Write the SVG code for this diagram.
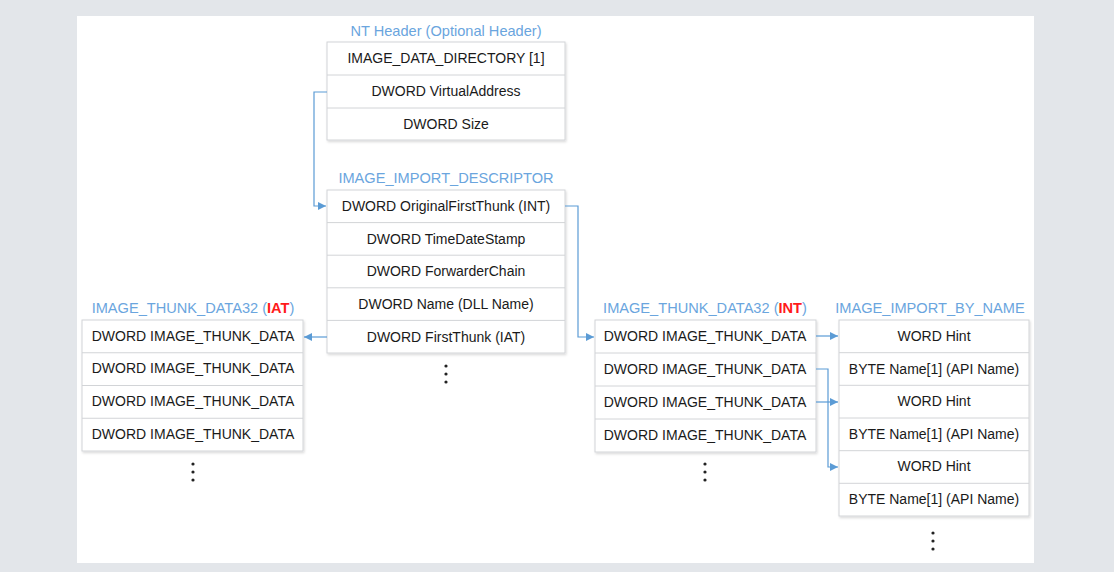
<svg xmlns="http://www.w3.org/2000/svg" width="1114" height="572" viewBox="0 0 1114 572">
<defs>
<style>
.bg{fill:#e3e6ea}
.page{fill:#ffffff}
.box{fill:#ffffff;stroke:#d2d4d7;stroke-width:1}
.sep{stroke:#d2d4d7;stroke-width:1}
.t{font-family:"Liberation Sans",Arial,sans-serif;font-size:14px;fill:#1a1a1a;text-anchor:middle}
.title{font-family:"Liberation Sans",Arial,sans-serif;font-size:14.6px;fill:#6aa5de;text-anchor:middle}
.red{fill:#ff1a1a;font-weight:bold}
.conn{fill:none;stroke:#5b9bd5;stroke-width:1.2}
.dot{fill:#222222}
</style>
<filter id="sh" x="-5%" y="-5%" width="110%" height="110%">
<feDropShadow dx="1" dy="1.5" stdDeviation="1" flood-color="#000000" flood-opacity="0.15"/>
</filter>
<marker id="arr" viewBox="0 0 10 10" refX="10" refY="5" markerWidth="8" markerHeight="8" markerUnits="userSpaceOnUse" orient="auto">
<path d="M0,0 L10,5 L0,10 z" fill="#5b9bd5"/>
</marker>
</defs>
<rect class="bg" x="0" y="0" width="1114" height="572"/>
<rect class="page" x="77" y="16" width="957" height="547"/>

<g id="nt-header">
<text class="title" x="446" y="36">NT Header (Optional Header)</text>
<rect class="box" x="327" y="42" width="238" height="98" filter="url(#sh)"/>
<line class="sep" x1="327" y1="75" x2="565" y2="75"/>
<line class="sep" x1="327" y1="108" x2="565" y2="108"/>
<text class="t" x="446" y="63">IMAGE_DATA_DIRECTORY [1]</text>
<text class="t" x="446" y="96">DWORD VirtualAddress</text>
<text class="t" x="446" y="129">DWORD Size</text>
</g>

<g id="import-descriptor">
<text class="title" x="446" y="183">IMAGE_IMPORT_DESCRIPTOR</text>
<rect class="box" x="327" y="190" width="238" height="163" filter="url(#sh)"/>
<line class="sep" x1="327" y1="222.6" x2="565" y2="222.6"/>
<line class="sep" x1="327" y1="255.2" x2="565" y2="255.2"/>
<line class="sep" x1="327" y1="287.8" x2="565" y2="287.8"/>
<line class="sep" x1="327" y1="320.4" x2="565" y2="320.4"/>
<text class="t" x="446" y="211">DWORD OriginalFirstThunk (INT)</text>
<text class="t" x="446" y="244">DWORD TimeDateStamp</text>
<text class="t" x="446" y="276">DWORD ForwarderChain</text>
<text class="t" x="446" y="309">DWORD Name (DLL Name)</text>
<text class="t" x="446" y="342">DWORD FirstThunk (IAT)</text>
<circle class="dot" cx="446" cy="366" r="1.6"/>
<circle class="dot" cx="446" cy="374" r="1.6"/>
<circle class="dot" cx="446" cy="382" r="1.6"/>
</g>

<g id="thunk-iat">
<text class="title" x="193" y="313">IMAGE_THUNK_DATA32 (<tspan class="red">IAT</tspan>)</text>
<rect class="box" x="82" y="320" width="221" height="131" filter="url(#sh)"/>
<line class="sep" x1="82" y1="352.75" x2="303" y2="352.75"/>
<line class="sep" x1="82" y1="385.5" x2="303" y2="385.5"/>
<line class="sep" x1="82" y1="418.25" x2="303" y2="418.25"/>
<text class="t" x="193" y="341">DWORD IMAGE_THUNK_DATA</text>
<text class="t" x="193" y="373">DWORD IMAGE_THUNK_DATA</text>
<text class="t" x="193" y="406">DWORD IMAGE_THUNK_DATA</text>
<text class="t" x="193" y="439">DWORD IMAGE_THUNK_DATA</text>
<circle class="dot" cx="193" cy="464" r="1.6"/>
<circle class="dot" cx="193" cy="472" r="1.6"/>
<circle class="dot" cx="193" cy="480" r="1.6"/>
</g>

<g id="thunk-int">
<text class="title" x="705" y="313">IMAGE_THUNK_DATA32 (<tspan class="red">INT</tspan>)</text>
<rect class="box" x="595" y="320" width="221" height="132" filter="url(#sh)"/>
<line class="sep" x1="595" y1="353" x2="816" y2="353"/>
<line class="sep" x1="595" y1="386" x2="816" y2="386"/>
<line class="sep" x1="595" y1="419" x2="816" y2="419"/>
<text class="t" x="705" y="341">DWORD IMAGE_THUNK_DATA</text>
<text class="t" x="705" y="374">DWORD IMAGE_THUNK_DATA</text>
<text class="t" x="705" y="407">DWORD IMAGE_THUNK_DATA</text>
<text class="t" x="705" y="440">DWORD IMAGE_THUNK_DATA</text>
<circle class="dot" cx="705" cy="464" r="1.6"/>
<circle class="dot" cx="705" cy="472" r="1.6"/>
<circle class="dot" cx="705" cy="480" r="1.6"/>
</g>

<g id="import-by-name">
<text class="title" x="930" y="313">IMAGE_IMPORT_BY_NAME</text>
<rect class="box" x="839" y="320" width="190" height="196" filter="url(#sh)"/>
<line class="sep" x1="839" y1="352.7" x2="1029" y2="352.7"/>
<line class="sep" x1="839" y1="385.3" x2="1029" y2="385.3"/>
<line class="sep" x1="839" y1="418" x2="1029" y2="418"/>
<line class="sep" x1="839" y1="450.7" x2="1029" y2="450.7"/>
<line class="sep" x1="839" y1="483.3" x2="1029" y2="483.3"/>
<text class="t" x="934" y="341">WORD Hint</text>
<text class="t" x="934" y="374">BYTE Name[1] (API Name)</text>
<text class="t" x="934" y="406">WORD Hint</text>
<text class="t" x="934" y="439">BYTE Name[1] (API Name)</text>
<text class="t" x="934" y="471">WORD Hint</text>
<text class="t" x="934" y="504">BYTE Name[1] (API Name)</text>
<circle class="dot" cx="933" cy="533" r="1.6"/>
<circle class="dot" cx="933" cy="541" r="1.6"/>
<circle class="dot" cx="933" cy="549" r="1.6"/>
</g>

<g id="connectors">
<path class="conn" d="M327,92 H314 V206 H326" marker-end="url(#arr)"/>
<path class="conn" d="M565,206 H578 V337 H594" marker-end="url(#arr)"/>
<path class="conn" d="M327,337 H304" marker-end="url(#arr)"/>
<path class="conn" d="M816,336 H838" marker-end="url(#arr)"/>
<path class="conn" d="M816,369 H828 V467 H838" marker-end="url(#arr)"/>
<path class="conn" d="M816,402 H838" marker-end="url(#arr)"/>
</g>
</svg>
